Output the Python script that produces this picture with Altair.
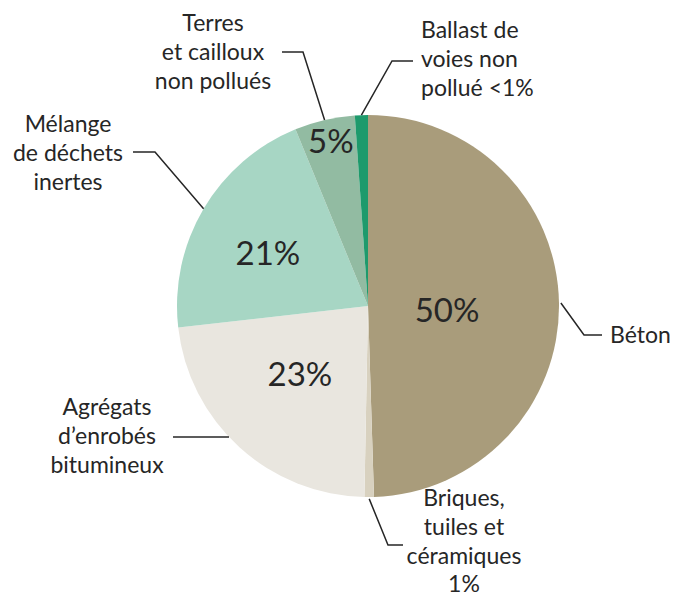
import math
import altair as alt
import pandas as pd

# ---- data ----
categories = [
    "Béton",
    "Briques, tuiles et céramiques",
    "Agrégats d'enrobés bitumineux",
    "Mélange de déchets inertes",
    "Terres et cailloux non pollués",
    "Ballast de voies non pollué",
]
shares = [49.5, 0.8, 22.9, 20.6, 5.1, 1.1]
inner_labels = ["50%", "", "23%", "21%", "5%", ""]
outer_labels = [
    "Béton",
    "Briques,\ntuiles et\ncéramiques\n1%",
    "Agrégats\nd’enrobés\nbitumineux",
    "Mélange\nde déchets\ninertes",
    "Terres\net cailloux\nnon pollués",
    "Ballast de\nvoies non\npollué <1%",
]
colors = ["#A99C7B", "#D8D1BF", "#E9E6DF", "#A7D6C4", "#92BBA2", "#1E9A6C"]

# ---- layout (page pixels) ----
W, H = 664, 591
CX, CY, R = 368, 306, 191
TEXT = "#262626"
inner_pos = [(0.415, 5.3), None, (0.51, 2.1), (0.587, -3.8), (0.875, 0.3), None]
# x, y of the first line, alignment
outer_pos = [(610, 336, "left"), (464, 499, "center"), (107, 408, "center"),
             (68, 125, "center"), (213, 24, "center"), (421, 31, "left")]
leader = [
    (1.01, [(584, 335), (602, 335)]),
    (1.01, [(388, 545), (403, 545)]),
    ("h", [(173, 437)]),
    (1.0, [(155, 152), (133, 152)]),
    (1.0, [(303, 52), (282, 52)]),
    (1.0, [(392, 61), (413, 61)]),
]

total = sum(shares)
mids = []
acc = 0.0
for s in shares:
    mids.append((acc + s / 2) / total * 360.0)
    acc += s


def polar(r, deg):
    a = math.radians(deg)
    return CX + r * math.sin(a), CY - r * math.cos(a)


xs = alt.Scale(domain=[8, 8 + W], nice=False, zero=False)
ys = alt.Scale(domain=[8, 8 + H], nice=False, zero=False, reverse=True)

pie_df = pd.DataFrame({"category": categories, "share": shares, "idx": range(len(shares))})
pie = alt.Chart(pie_df).mark_arc(radius=R).encode(
    theta=alt.Theta("share:Q", stack=True),
    order=alt.Order("idx:Q"),
    color=alt.Color("category:N", scale=alt.Scale(domain=categories, range=colors), legend=None),
    x=alt.X(datum=CX, type="quantitative", scale=xs, axis=None),
    y=alt.Y(datum=CY, type="quantitative", scale=ys, axis=None),
)

inner_rows = []
for lab, pos, m in zip(inner_labels, inner_pos, mids):
    if pos is None or not lab:
        continue
    px, py = polar(pos[0] * R, m + pos[1])
    inner_rows.append({"t": lab, "px": px, "py": py})
inner = alt.Chart(pd.DataFrame(inner_rows)).mark_text(
    font="Lato", fontSize=33, color=TEXT, align="center", baseline="middle"
).encode(
    x=alt.X("px:Q", scale=xs, axis=None),
    y=alt.Y("py:Q", scale=ys, axis=None),
    text="t:N",
)

line_rows = []
for cat, (r, pts), m in zip(categories, leader, mids):
    if r == "h":
        yy = pts[0][1]
        dy = yy - CY
        start = (CX - math.sqrt(R * R - dy * dy), yy)
    else:
        start = polar(r * R, m)
    seq = [start] + pts
    for i, (px, py) in enumerate(seq):
        line_rows.append({"category": cat, "seq": i, "px": px, "py": py})
lines = alt.Chart(pd.DataFrame(line_rows)).mark_line(color=TEXT, strokeWidth=1.5).encode(
    x=alt.X("px:Q", scale=xs, axis=None),
    y=alt.Y("py:Q", scale=ys, axis=None),
    detail="category:N",
    order="seq:Q",
)

layers = [pie, lines, inner]
for align in ["center", "left"]:
    rows = [{"t": lab, "px": p[0], "py": p[1]} for lab, p in zip(outer_labels, outer_pos) if p[2] == align]
    layers.append(
        alt.Chart(pd.DataFrame(rows)).mark_text(
            font="Lato", fontSize=23, lineHeight=28.8, lineBreak="\n",
            color=TEXT, align=align, baseline="middle"
        ).encode(
            x=alt.X("px:Q", scale=xs, axis=None),
            y=alt.Y("py:Q", scale=ys, axis=None),
            text="t:N",
        )
    )

chart = alt.layer(*layers).properties(
    width=W, height=H, padding=0,
    autosize=alt.AutoSizeParams(type="none"),
    background="white",
).configure_view(stroke=None)

chart.save("out.html", embed_options={"renderer": "svg", "actions": False})
